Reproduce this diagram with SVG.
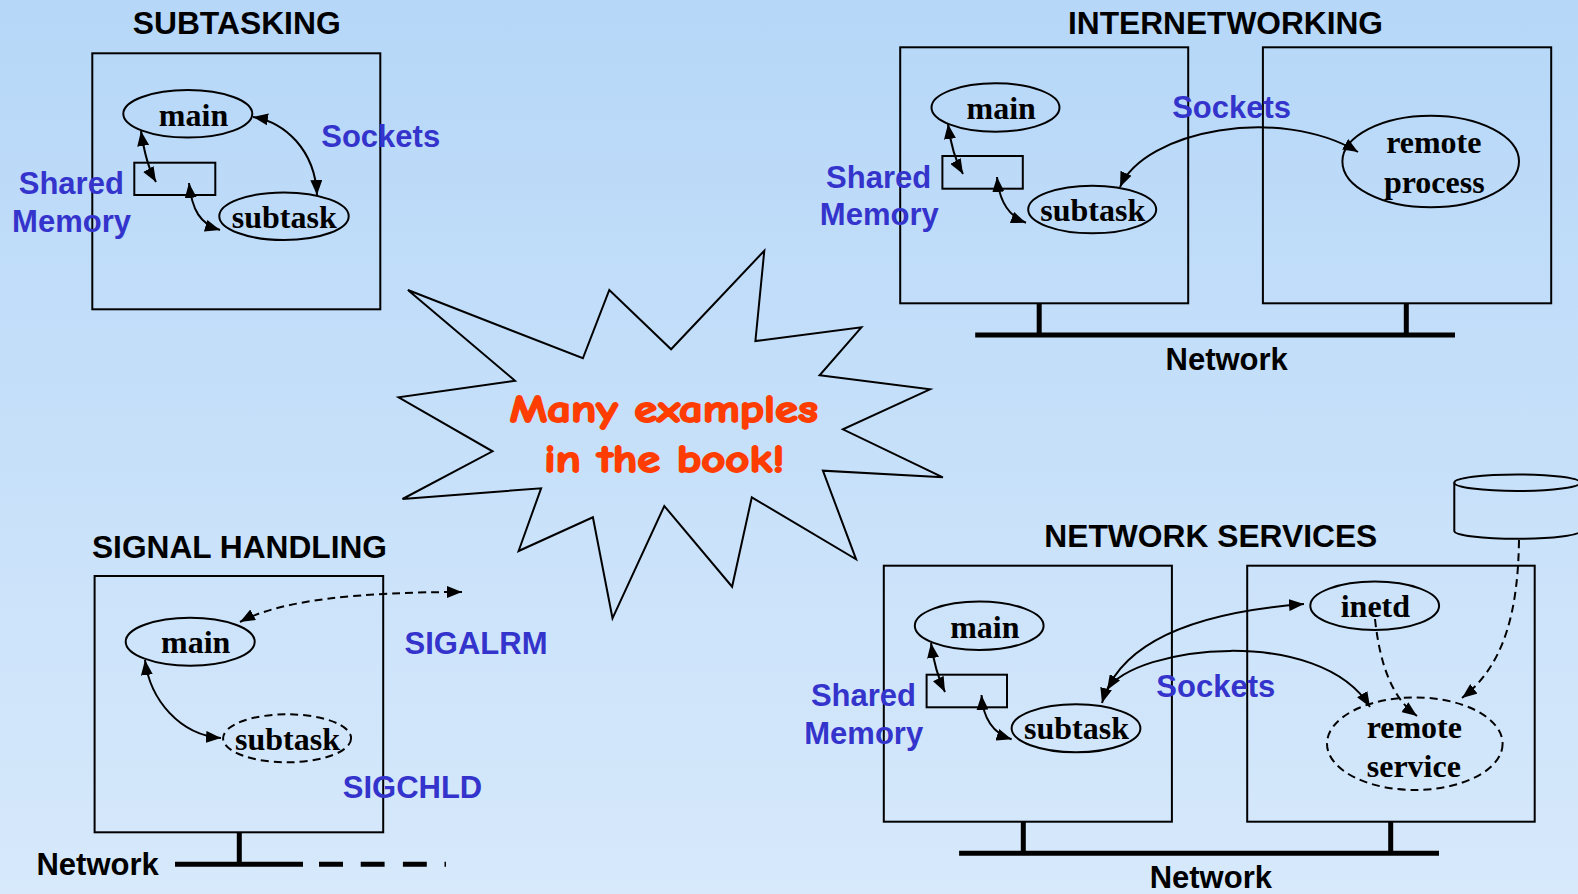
<svg xmlns="http://www.w3.org/2000/svg" width="1578" height="894" viewBox="0 0 1578 894">
  <defs>
    <linearGradient id="bg" x1="0" y1="0" x2="0" y2="1">
      <stop offset="0" stop-color="#B6D7F8"/>
      <stop offset="1" stop-color="#D7E9FB"/>
    </linearGradient>
    <marker id="ah" viewBox="0 0 15 12" refX="15" refY="6" markerWidth="15" markerHeight="12" markerUnits="userSpaceOnUse" orient="auto-start-reverse">
      <path d="M0,0 L15,6 L0,12 z" fill="#000"/>
    </marker>
    <style>
      .box { fill: none; stroke: #000; stroke-width: 2; }
      .proc { fill: none; stroke: #000; stroke-width: 2; }
      .dash { stroke-dasharray: 8 5; }
      .bus { stroke: #000; stroke-width: 5; fill: none; }
      .title { font-family: "Liberation Sans", Arial, sans-serif; font-weight: bold; font-size: 31px; fill: #000; text-anchor: middle; }
      .lbl { font-family: "Liberation Sans", Arial, sans-serif; font-weight: bold; font-size: 31px; fill: #3434CC; text-anchor: middle; }
      .pn { font-family: "Liberation Serif", "Times New Roman", serif; font-weight: bold; font-size: 32px; fill: #000; text-anchor: middle; }
      .conn { fill: none; stroke: #000; stroke-width: 2; marker-start: url(#ah); marker-end: url(#ah); }
      .one { fill: none; stroke: #000; stroke-width: 2; marker-end: url(#ah); }
      .star { fill: none; stroke: #000; stroke-width: 2; stroke-linejoin: miter; }
      .shout { font-family: "Comic Sans MS", "Comic Neue", "DejaVu Sans", sans-serif; font-weight: bold; font-size: 38px; fill: #FF3D00; stroke: #FF3D00; stroke-width: 1.8; stroke-linejoin: round; text-anchor: middle; }
    </style>
  </defs>

  <rect x="0" y="0" width="1578" height="894" fill="url(#bg)"/>

  <!-- Subtasking: one host, two processes -->
  <g id="subtasking">
    <text class="title" x="236.7" y="34.3" textLength="208" lengthAdjust="spacingAndGlyphs">SUBTASKING</text>
    <rect class="box" x="92.3" y="53.3" width="288" height="256"/>
  </g>
  <g id="st-main">
    <ellipse class="proc" cx="187.8" cy="113.8" rx="64.5" ry="23.8"/>
    <text class="pn" x="193.5" y="125.7">main</text>
  </g>
  <g id="st-shm">
    <rect class="box" x="134.3" y="162.7" width="81" height="32.3"/>
  </g>
  <g id="st-subtask">
    <ellipse class="proc" cx="284" cy="216.2" rx="64.7" ry="23.8"/>
    <text class="pn" x="284.3" y="227.7">subtask</text>
  </g>
  <g id="st-labels">
    <text class="lbl" x="380.7" y="146.7">Sockets</text>
    <text class="lbl" x="71.3" y="194.3">Shared</text>
    <text class="lbl" x="71.5" y="232.3">Memory</text>
  </g>

  <!-- Internetworking: two hosts on a network -->
  <g id="internetworking">
    <text class="title" x="1225.5" y="34.3" textLength="315" lengthAdjust="spacingAndGlyphs">INTERNETWORKING</text>
    <rect class="box" x="900.2" y="47.3" width="288" height="256"/>
    <rect class="box" x="1262.9" y="47.3" width="288.3" height="256"/>
    <path class="bus" d="M1039.2,303.3 V335 M1406.3,303.3 V335 M975.2,335 H1455"/>
    <text class="title" x="1226.7" y="370">Network</text>
  </g>
  <g id="in-main">
    <ellipse class="proc" cx="995.5" cy="107.5" rx="64" ry="24.2"/>
    <text class="pn" x="1001.2" y="119">main</text>
  </g>
  <g id="in-shm">
    <rect class="box" x="942.4" y="156" width="80.4" height="32.7"/>
  </g>
  <g id="in-subtask">
    <ellipse class="proc" cx="1092.2" cy="209.5" rx="64" ry="23.8"/>
    <text class="pn" x="1092.7" y="221">subtask</text>
  </g>
  <g id="in-remote">
    <ellipse class="proc" cx="1430.7" cy="161.5" rx="88.3" ry="45.8"/>
    <text class="pn" x="1433.8" y="153.3">remote</text>
    <text class="pn" x="1434.3" y="192.7">process</text>
  </g>
  <g id="in-labels">
    <text class="lbl" x="1231.6" y="118.3">Sockets</text>
    <text class="lbl" x="878.6" y="187.7">Shared</text>
    <text class="lbl" x="879.3" y="225">Memory</text>
  </g>

  <!-- Signal handling -->
  <g id="signals">
    <text class="title" x="239.5" y="558.3" textLength="295" lengthAdjust="spacingAndGlyphs">SIGNAL HANDLING</text>
    <rect class="box" x="94.6" y="576" width="288.6" height="256.3"/>
    <path class="bus" d="M239.3,832.3 V864.3 M175,864.3 H303"/>
    <path class="bus" d="M319,864.3 H343 M360.7,864.3 H384.6 M402.9,864.3 H426.8 M444.5,864.3 H446"/>
    <text class="title" x="97.6" y="875">Network</text>
  </g>
  <g id="sg-main">
    <ellipse class="proc" cx="190.2" cy="641.7" rx="64.5" ry="24"/>
    <text class="pn" x="195.7" y="653.3">main</text>
  </g>
  <g id="sg-subtask">
    <ellipse class="proc dash" cx="287.1" cy="738.3" rx="64" ry="24"/>
    <text class="pn" x="287.5" y="750">subtask</text>
  </g>
  <g id="sg-labels">
    <text class="lbl" x="476" y="654">SIGALRM</text>
    <text class="lbl" x="412.5" y="797.7">SIGCHLD</text>
  </g>

  <!-- Network services -->
  <g id="netservices">
    <text class="title" x="1210.8" y="546.7" textLength="333" lengthAdjust="spacingAndGlyphs">NETWORK SERVICES</text>
    <rect class="box" x="883.8" y="565.7" width="288.1" height="256"/>
    <rect class="box" x="1247.2" y="565.7" width="287.5" height="256"/>
    <path class="bus" d="M1023.3,821.7 V853.3 M1390.7,821.7 V853.3 M959.1,853.3 H1439"/>
    <text class="title" x="1210.8" y="888.3">Network</text>
  </g>
  <g id="ns-disk">
    <path class="box" d="M1454.3,482.7 V531 A63,7.8 0 0 0 1580.3,531 V482.7"/>
    <ellipse class="box" cx="1517.3" cy="482.7" rx="63" ry="8.3"/>
  </g>
  <g id="ns-main">
    <ellipse class="proc" cx="979.2" cy="625.8" rx="64.4" ry="24.2"/>
    <text class="pn" x="984.8" y="637.7">main</text>
  </g>
  <g id="ns-shm">
    <rect class="box" x="926.6" y="674.7" width="80.4" height="32.6"/>
  </g>
  <g id="ns-subtask">
    <ellipse class="proc" cx="1076" cy="728.3" rx="64.4" ry="24"/>
    <text class="pn" x="1076.5" y="739.3">subtask</text>
  </g>
  <g id="ns-inetd">
    <ellipse class="proc" cx="1374.7" cy="605.8" rx="64.4" ry="24.2"/>
    <text class="pn" x="1375.4" y="617.3">inetd</text>
  </g>
  <g id="ns-remote">
    <ellipse class="proc dash" cx="1414.8" cy="743.7" rx="87.8" ry="46.3"/>
    <text class="pn" x="1414.3" y="737.7">remote</text>
    <text class="pn" x="1413.8" y="776.7">service</text>
  </g>
  <g id="ns-labels">
    <text class="lbl" x="1215.8" y="696.7">Sockets</text>
    <text class="lbl" x="863.5" y="705.7">Shared</text>
    <text class="lbl" x="863.7" y="744.3">Memory</text>
  </g>

  <!-- Starburst callout -->
  <g id="callout">
    <polygon class="star" points="407.9,290 582.9,358.3 609.3,290 671.1,349.3 764.3,250.7 755.4,341 861.4,327.3 819.6,375.3 930,389.3 842.9,429.3 942.9,477.3 822.9,470.7 856.1,559.3 751.8,497.3 732.1,586.7 664.3,506 612.5,618.3 592.9,517.3 518.6,551 541.1,488.3 402.5,499 492.5,451.3 398.6,397.3 515,380.7"/>
    <text class="shout" x="663.8" y="421.7" textLength="308" lengthAdjust="spacingAndGlyphs">Many examples</text>
    <text class="shout" x="664.3" y="471.7" textLength="240" lengthAdjust="spacingAndGlyphs">in the book!</text>
  </g>

  <!-- Connectors -->
  <g id="connectors">
    <!-- subtasking -->
    <path class="conn" d="M141,131 Q146,165 156,182"/>
    <path class="conn" d="M189,183 C192,210 200,224 220,230"/>
    <path class="conn" d="M253,117 C285,122 315,150 317,195"/>
    <!-- internetworking -->
    <path class="conn" d="M948,124 Q952,155 963,174"/>
    <path class="conn" d="M997,177 C999,200 1008,216 1026,222.7"/>
    <path class="conn" d="M1120,187 C1145,130 1280,105 1358,152"/>
    <!-- signal handling -->
    <path class="conn" d="M145,660 C150,700 180,735 221,738"/>
    <path class="conn dash" d="M240,622 C280,600 360,592 462,592"/>
    <!-- network services -->
    <path class="conn" d="M931,643 Q935,672 945,692"/>
    <path class="conn" d="M981.5,695 C983,718 992,733 1011.6,739.3"/>
    <path class="conn" d="M1102,703 C1120,640 1200,612 1304,604"/>
    <path class="conn" d="M1107,690 C1135,645 1320,625 1370,707"/>
    <path class="one dash" d="M1375,619 C1380,665 1392,698 1417,716"/>
    <path class="one dash" d="M1519,540 C1518,610 1505,665 1462,698"/>
  </g>
</svg>
